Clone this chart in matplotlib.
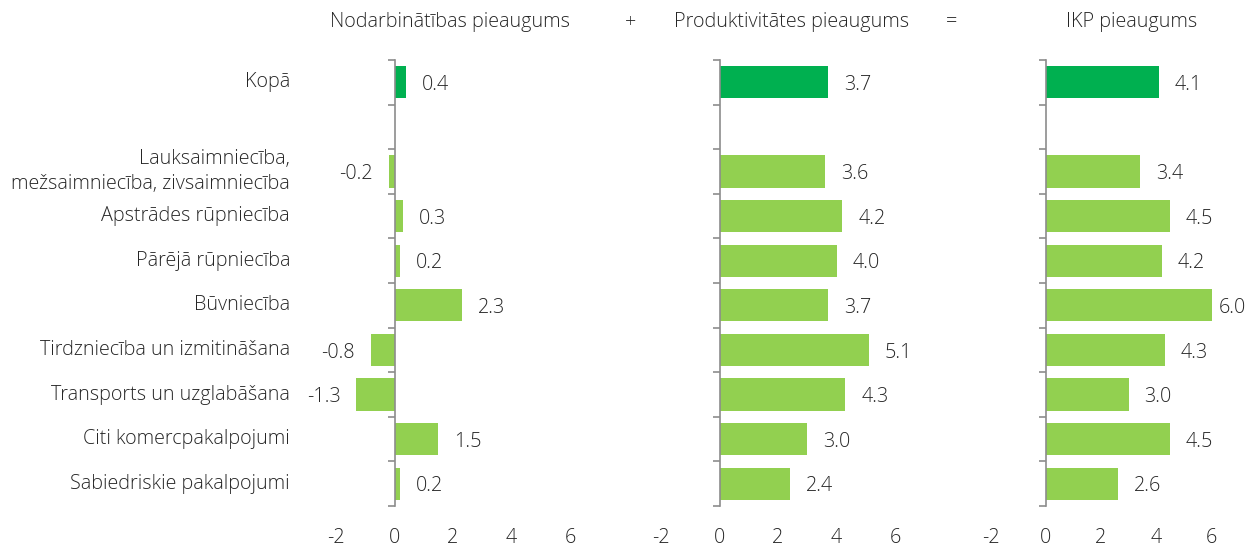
import matplotlib.pyplot as plt
from matplotlib import transforms

plt.rcParams['font.family'] = ['Open Sans', 'DejaVu Sans']
plt.rcParams['font.weight'] = 'light'

# Nozares (pirmā ir kopējais rādītājs)
nozares = [
    "Kopā",
    "Lauksaimniecība,\nmežsaimniecība, zivsaimniecība",
    "Apstrādes rūpniecība",
    "Pārējā rūpniecība",
    "Būvniecība",
    "Tirdzniecība un izmitināšana",
    "Transports un uzglabāšana",
    "Citi komercpakalpojumi",
    "Sabiedriskie pakalpojumi",
]
nodarbinatiba = [0.4, -0.2, 0.3, 0.2, 2.3, -0.8, -1.3, 1.5, 0.2]
produktivitate = [3.7, 3.6, 4.2, 4.0, 3.7, 5.1, 4.3, 3.0, 2.4]
ikp = [4.1, 3.4, 4.5, 4.2, 6.0, 4.3, 3.0, 4.5, 2.6]
x_ticks = [-2, 0, 2, 4, 6]

virsraksti = ["Nodarbinātības pieaugums", "Produktivitātes pieaugums", "IKP pieaugums"]

teksts = '#262626'
ass = '#8c8c8c'
tumsi_zals = '#00B050'
gaiss_zals = '#92D050'
fs = 14.2

# Kopā rindai seko tukša rinda
rindas = [0] + list(range(2, len(nozares) + 1))
n_rindas = len(nozares) + 1

fig = plt.figure(figsize=(12.48, 5.48), dpi=100)
W, H = 1248, 548
top, bottom = 60, 506
paneli = [(336, 234), (661, 234), (990.5, 221)]

axes = []
for (x0, w), vert in zip(paneli, [nodarbinatiba, produktivitate, ikp]):
    ax = fig.add_axes([x0 / W, 1 - bottom / H, w / W, (bottom - top) / H])
    krasas = [tumsi_zals] + [gaiss_zals] * (len(vert) - 1)
    ax.barh(rindas, vert, height=0.72, color=krasas)
    ax.set_xlim(-2, 6)
    ax.set_ylim(n_rindas - 0.5, -0.5)
    for s in ['top', 'right', 'bottom']:
        ax.spines[s].set_visible(False)
    ax.spines['left'].set_position(('data', 0))
    ax.spines['left'].set_color(ass)
    ax.spines['left'].set_linewidth(1.2)
    ax.set_yticks([i - 0.5 for i in range(n_rindas + 1)])
    ax.set_yticklabels([])
    ax.tick_params(axis='y', length=5, color=ass, width=1.2, direction='out')
    ax.set_xticks(x_ticks)
    ax.set_xticklabels([str(t) for t in x_ticks])
    ax.tick_params(axis='x', length=0, pad=16, labelsize=fs, labelcolor=teksts)
    xmax = ax.get_xlim()[1]
    for y, v in zip(rindas, vert):
        if v >= 0:
            # pie ass malas uzrakstu pievelk tuvāk stabiņam
            dx = 5 if v > xmax - 0.2 else 11.5
            ax.annotate(f"{v:.1f}", (v, y), xytext=(dx, -2), textcoords='offset points',
                        ha='left', va='center', fontsize=fs, color=teksts)
        else:
            ax.annotate(f"{v:.1f}", (v, y), xytext=(-11.5, -2), textcoords='offset points',
                        ha='right', va='center', fontsize=fs, color=teksts)
    axes.append(ax)

# Nozaru nosaukumi pa kreisi no pirmā paneļa
trans = transforms.blended_transform_factory(fig.transFigure, axes[0].transData)
for y, nos in zip(rindas, nozares):
    axes[0].text(290 / W, y, nos, transform=trans, ha='right', va='center',
                 multialignment='right', fontsize=fs, color=teksts, linespacing=1.35)

# Virsraksti un zīmes starp paneļiem
virsr_y = 1 - 22 / H
for xc, t in zip([450, 792, 1131.5], virsraksti):
    fig.text(xc / W, virsr_y, t, ha='center', va='center', fontsize=fs, color=teksts)
fig.text(631 / W, virsr_y, "+", ha='center', va='center', fontsize=fs, color=teksts)
fig.text(952 / W, virsr_y, "=", ha='center', va='center', fontsize=fs, color=teksts)

fig.savefig('out.png', dpi=100, facecolor='white')
